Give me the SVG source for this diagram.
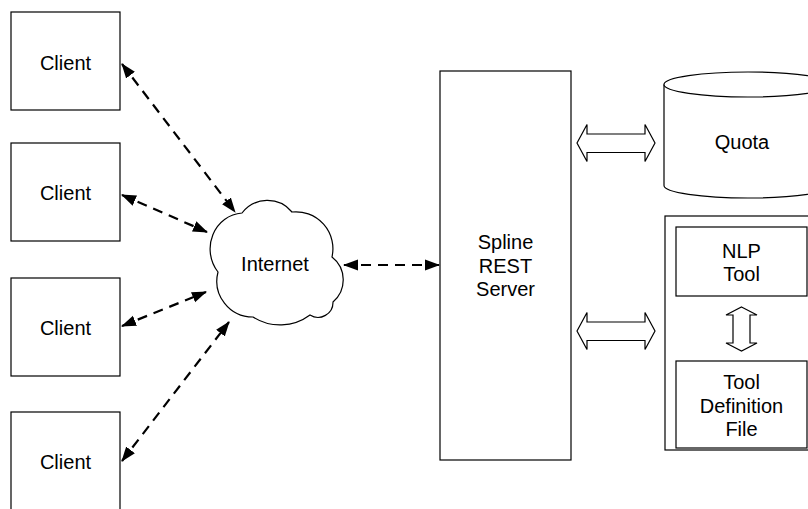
<svg xmlns="http://www.w3.org/2000/svg" width="808" height="509" viewBox="0 0 808 509">
<style>
  .box { fill: #fff; stroke: #000; stroke-width: 1.2; }
  .lbl { font-family: "Liberation Sans", Arial, sans-serif; font-size: 20px; fill: #000; text-anchor: middle; }
  .dash { fill: none; stroke: #000; stroke-width: 2.2; stroke-dasharray: 10 7; marker-start: url(#ah); marker-end: url(#ah); }
  .hollow { fill: #fff; stroke: #000; stroke-width: 1.2; stroke-linejoin: miter; }
</style>
<defs>
  <marker id="ah" markerUnits="userSpaceOnUse" markerWidth="16" markerHeight="12" refX="14" refY="6" orient="auto-start-reverse">
    <path d="M0,0.5 L15,6 L0,11.5 z" fill="#000"/>
  </marker>
</defs>
<rect width="808" height="509" fill="#fff"/>

<g id="client1"><rect class="box" x="11" y="12" width="109" height="98"/><text class="lbl" x="65.5" y="70">Client</text></g>
<g id="client2"><rect class="box" x="11" y="143" width="109" height="98"/><text class="lbl" x="65.5" y="200">Client</text></g>
<g id="client3"><rect class="box" x="11" y="278" width="109" height="98"/><text class="lbl" x="65.5" y="335">Client</text></g>
<g id="client4"><rect class="box" x="11" y="412" width="109" height="100"/><text class="lbl" x="65.5" y="469">Client</text></g>

<g id="internet">
  <path class="box" d="M218,272 A34,36 0 0 1 242,213 A32,32 0 0 1 292,212 A37,37 0 0 1 332,257 A29,29 0 0 1 333,302 A15,15 0 0 1 310,315 A50,50 0 0 1 253,317 A36,36 0 0 1 218,272 Z"/>
  <text class="lbl" x="275" y="271">Internet</text>
</g>

<g id="server">
  <rect class="box" x="440" y="71" width="131" height="389"/>
  <text class="lbl" x="505.5" y="249">Spline</text>
  <text class="lbl" x="505.5" y="273">REST</text>
  <text class="lbl" x="505.5" y="296">Server</text>
</g>

<g id="quota">
  <path class="box" d="M664,84.5 L664,185.5 A84,12.5 0 0 0 832,185.5 L832,84.5"/>
  <ellipse class="box" cx="748" cy="84.5" rx="84" ry="12.5"/>
  <text class="lbl" x="742" y="149">Quota</text>
</g>

<g id="toolContainer">
  <rect class="box" x="665" y="216" width="160" height="234"/>
</g>
<g id="nlpTool">
  <rect class="box" x="676" y="227" width="131" height="69"/>
  <text class="lbl" x="741.5" y="258">NLP</text>
  <text class="lbl" x="741.5" y="281">Tool</text>
</g>
<g id="toolDefinitionFile">
  <rect class="box" x="676" y="361" width="131" height="87"/>
  <text class="lbl" x="741.5" y="389">Tool</text>
  <text class="lbl" x="741.5" y="413">Definition</text>
  <text class="lbl" x="741.5" y="436">File</text>
</g>

<g id="connectors">
  <line class="dash" x1="122" y1="64" x2="235" y2="212"/>
  <line class="dash" x1="122" y1="195" x2="207" y2="232"/>
  <line class="dash" x1="122" y1="326" x2="206" y2="292"/>
  <line class="dash" x1="122" y1="461" x2="229" y2="322"/>
  <line class="dash" x1="344" y1="265" x2="439" y2="265"/>
  <polygon class="hollow" points="577,143 587,124.5 587,134 645,134 645,124.5 655,143 645,161.5 645,152.5 587,152.5 587,161.5"/>
  <polygon class="hollow" points="577,331 587,312.5 587,322 645,322 645,312.5 655,331 645,349.5 645,340.5 587,340.5 587,349.5"/>
  <polygon class="hollow" points="741.5,307 757,315 750,315 750,343 757,343 741.5,351 726,343 733,343 733,315 726,315"/>
</g>
</svg>
